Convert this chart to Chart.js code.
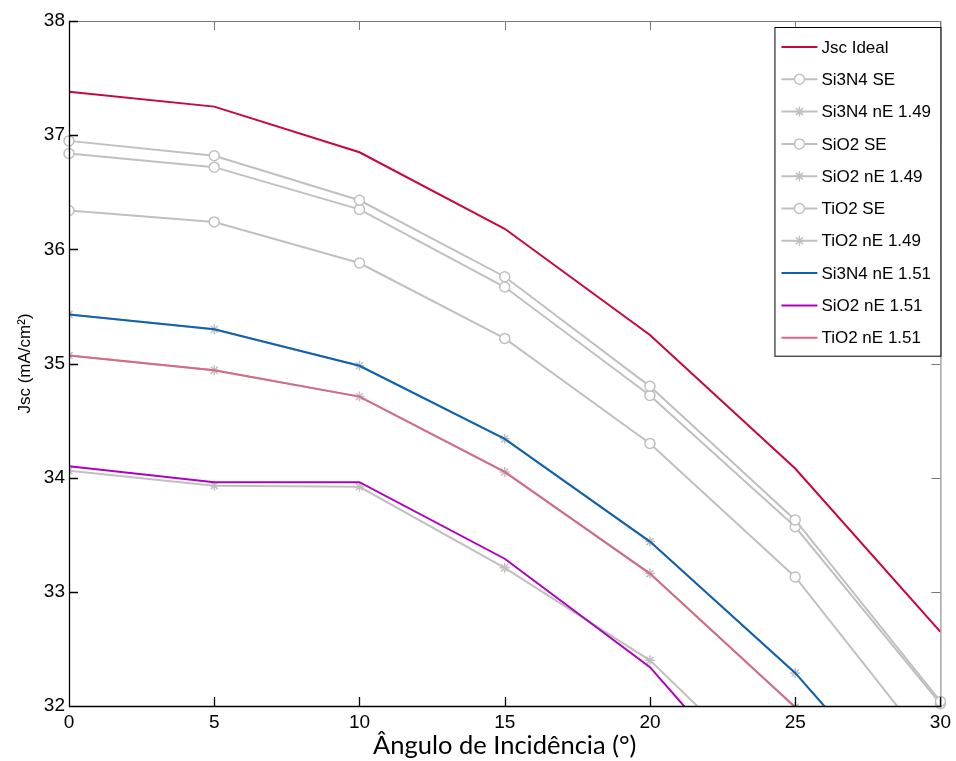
<!DOCTYPE html>
<html>
<head>
<meta charset="utf-8">
<title>Jsc vs Ângulo de Incidência</title>
<script src="https://cdn.jsdelivr.net/npm/chart.js@4.4.1/dist/chart.umd.min.js"></script>
<style>
  html, body { margin: 0; padding: 0; background: #fff; }
  #wrap { width: 956px; height: 761px; }
</style>
</head>
<body>
<div id="wrap"><canvas id="c" width="956" height="761"></canvas></div>
<script>
// Incidence angles (degrees)
const angles = [0, 5, 10, 15, 20, 25, 30];

// Short-circuit current density, mA/cm²
const jscIdeal    = [37.38, 37.25, 36.85, 36.18, 35.25, 34.08, 32.65];
const si3n4SE     = [36.95, 36.82, 36.43, 35.76, 34.80, 33.63, 32.04];
const sio2SE      = [36.84, 36.72, 36.35, 35.67, 34.72, 33.57, 32.02];
const tio2SE      = [36.34, 36.24, 35.88, 35.22, 34.30, 33.13, 31.52];
const si3n4nE149  = [35.43, 35.30, 34.98, 34.34, 33.44, 32.29, 30.84];
const sio2nE149   = [34.06, 33.93, 33.92, 33.21, 32.40, 31.17, 29.70];
const tio2nE149   = [35.07, 34.94, 34.71, 34.05, 33.16, 31.99, 30.60];
const si3n4nE151  = [35.43, 35.30, 34.98, 34.34, 33.44, 32.29, 30.84];
const sio2nE151   = [34.10, 33.96, 33.96, 33.29, 32.34, 30.89, 29.40];
const tio2nE151   = [35.07, 34.94, 34.71, 34.05, 33.16, 31.99, 30.60];

// Tick positions
const xTicks = [0, 5, 10, 15, 20, 25, 30];
const yTicks = [32, 33, 34, 35, 36, 37, 38];

const GRAY = '#c0c0c0';
const pts = vals => angles.map((a, i) => ({ x: a, y: vals[i] }));

function series(label, vals, color, style, extra) {
  return Object.assign({
    label,
    data: pts(vals),
    borderColor: color,
    backgroundColor: '#ffffff',
    borderWidth: 2,
    pointRadius: style ? 5 : 0,
    pointStyle: style || 'circle',
    pointBorderColor: color,
    pointBorderWidth: 1.5,
    pointBackgroundColor: '#ffffff',
    tension: 0,
    fill: false
  }, extra || {});
}

const datasets = [
  series('Jsc Ideal', jscIdeal, '#c8063f', null),
  series('Si3N4 SE', si3n4SE, GRAY, 'circle', { clip: 7 }),
  series('Si3N4 nE 1.49', si3n4nE149, GRAY, 'star'),
  series('SiO2 SE', sio2SE, GRAY, 'circle', { clip: 7 }),
  series('SiO2 nE 1.49', sio2nE149, GRAY, 'star'),
  series('TiO2 SE', tio2SE, GRAY, 'circle'),
  series('TiO2 nE 1.49', tio2nE149, GRAY, 'star'),
  series('Si3N4 nE 1.51', si3n4nE151, '#0f62b0', null, { order: -1 }),
  series('SiO2 nE 1.51', sio2nE151, '#b000bf', null, { order: -1 }),
  series('TiO2 nE 1.51', tio2nE151, '#d66a86', null, { order: -1 })
];

// Axes frame with inward ticks on all four sides
const framePlugin = {
  id: 'frame',
  afterDatasetsDraw(chart) {
    const { ctx, chartArea: a, scales } = chart;
    const L = 9;
    ctx.save();
    ctx.lineWidth = 1;
    // top & right (gray)
    ctx.strokeStyle = '#7a7a7a';
    ctx.beginPath();
    ctx.moveTo(a.left, a.top + 0.5); ctx.lineTo(a.right, a.top + 0.5);
    ctx.moveTo(a.right + 0.5, a.top); ctx.lineTo(a.right + 0.5, a.bottom);
    scales.x.ticks.forEach(t => {
      const px = Math.round(scales.x.getPixelForValue(t.value)) + 0.5;
      ctx.moveTo(px, a.top); ctx.lineTo(px, a.top + L);
    });
    scales.y.ticks.forEach(t => {
      const py = Math.round(scales.y.getPixelForValue(t.value)) + 0.5;
      ctx.moveTo(a.right, py); ctx.lineTo(a.right - L, py);
    });
    ctx.stroke();
    // left & bottom (black)
    ctx.strokeStyle = '#000';
    ctx.lineWidth = 1.3;
    ctx.beginPath();
    ctx.moveTo(a.left + 0.5, a.top); ctx.lineTo(a.left + 0.5, a.bottom + 0.5);
    ctx.lineTo(a.right + 1, a.bottom + 0.5);
    scales.x.ticks.forEach(t => {
      const px = Math.round(scales.x.getPixelForValue(t.value)) + 0.5;
      ctx.moveTo(px, a.bottom); ctx.lineTo(px, a.bottom - L);
    });
    scales.y.ticks.forEach(t => {
      const py = Math.round(scales.y.getPixelForValue(t.value)) + 0.5;
      ctx.moveTo(a.left, py); ctx.lineTo(a.left + L, py);
    });
    ctx.stroke();
    ctx.restore();
  }
};

// Boxed legend in the upper-right corner of the plot area
const boxLegendPlugin = {
  id: 'boxLegend',
  afterDraw(chart) {
    const { ctx, chartArea: a } = chart;
    const ds = chart.data.datasets;
    const boxL = a.right - 166, boxT = a.top + 6, rowH = 32.3;
    const boxB = boxT + 20 + rowH * (ds.length - 1) + 18;
    ctx.save();
    ctx.fillStyle = '#fff';
    ctx.fillRect(boxL, boxT, a.right - boxL, boxB - boxT);
    ctx.strokeStyle = '#000';
    ctx.lineWidth = 1;
    ctx.strokeRect(boxL + 0.5, boxT + 0.5, a.right - boxL, boxB - boxT);
    ds.forEach((d, i) => {
      const y = boxT + 20 + rowH * i;
      ctx.strokeStyle = d.borderColor;
      ctx.lineWidth = d.borderWidth;
      ctx.beginPath();
      ctx.moveTo(boxL + 7, y); ctx.lineTo(boxL + 43, y);
      ctx.stroke();
      if (d.pointRadius > 0) {
        ctx.fillStyle = d.pointBackgroundColor;
        ctx.strokeStyle = d.pointBorderColor;
        ctx.lineWidth = d.pointBorderWidth;
        Chart.helpers.drawPoint(ctx, {
          pointStyle: d.pointStyle, radius: d.pointRadius,
          borderWidth: d.pointBorderWidth, rotation: 0
        }, boxL + 25, y);
      }
      ctx.fillStyle = '#000';
      ctx.font = '17px "Liberation Sans", Arial, sans-serif';
      ctx.textBaseline = 'middle';
      ctx.textAlign = 'left';
      ctx.fillText(d.label, boxL + 47, y + 1);
    });
    ctx.restore();
  }
};

new Chart(document.getElementById('c'), {
  type: 'line',
  data: { datasets },
  options: {
    responsive: false,
    animation: false,
    events: [],
    layout: { padding: { top: 21, right: 13, left: 0, bottom: 0 } },
    plugins: { legend: { display: false }, tooltip: { enabled: false } },
    scales: {
      x: {
        type: 'linear', min: 0, max: 30,
        afterBuildTicks: s => { s.ticks = xTicks.map(v => ({ value: v })); },
        afterFit: s => { s.height = 55; },
        grid: { display: false, drawTicks: false },
        border: { display: false },
        ticks: {
          padding: 5, color: '#000',
          font: { family: '"Liberation Sans", Arial, sans-serif', size: 19 }
        },
        title: {
          display: true, text: 'Ângulo de Incidência (°)', color: '#000',
          font: { family: 'Lato, "Open Sans", sans-serif', size: 25.5 },
          padding: { top: 0, bottom: 0 }
        }
      },
      y: {
        type: 'linear', min: 32, max: 38,
        afterBuildTicks: s => { s.ticks = yTicks.map(v => ({ value: v })); },
        afterFit: s => { s.width = 69; },
        grid: { display: false, drawTicks: false },
        border: { display: false },
        ticks: {
          padding: 4, color: '#000',
          font: { family: '"Liberation Sans", Arial, sans-serif', size: 19 }
        },
        title: {
          display: true, text: 'Jsc (mA/cm²)', color: '#000',
          font: { family: '"Liberation Sans", Arial, sans-serif', size: 17 },
          padding: { top: 15, bottom: 0 }
        }
      }
    }
  },
  plugins: [framePlugin, boxLegendPlugin]
});
</script>
</body>
</html>
